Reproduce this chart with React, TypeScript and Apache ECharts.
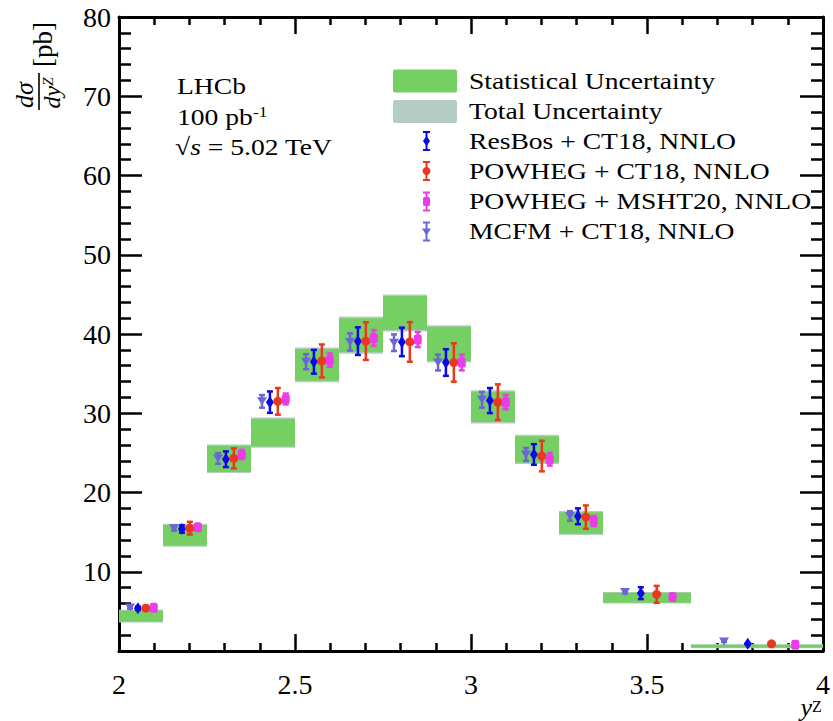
import React, { useEffect, useRef } from 'react';
import * as echarts from 'echarts';

// ---------------- data ----------------
const binEdges = [2.0, 2.125, 2.25, 2.375, 2.5, 2.625, 2.75, 2.875, 3.0, 3.125, 3.25, 3.375, 3.625, 4.0];
const statLow = [3.7, 13.3, 22.6, 25.8, 34.1, 37.7, 40.5, 36.6, 28.9, 23.8, 14.8, 6.1, 0.4];
const statHigh = [5.1, 15.9, 25.9, 29.3, 38.1, 42.0, 44.8, 40.9, 32.7, 27.1, 17.5, 7.35, 0.8];
const totalLow = [3.6, 13.15, 22.45, 25.65, 33.9, 37.5, 40.3, 36.4, 28.7, 23.6, 14.65, 6.0, 0.35];
const totalHigh = [5.2, 16.05, 26.05, 29.45, 38.3, 42.2, 45.0, 41.1, 32.9, 27.3, 17.65, 7.45, 0.85];

const mcfmVal = [5.5, 15.5, 24.3, 31.5, 36.5, 39.0, 38.9, 36.4, 31.7, 24.8, 17.05, 7.45, 1.2];
const mcfmErr = [0.15, 0.3, 0.67, 0.8, 0.95, 1.09, 1.05, 1.0, 0.99, 0.82, 0.6, 0.2, 0.05];
const resbosVal = [5.4, 15.4, 24.2, 31.4, 36.5, 39.1, 39.0, 36.4, 31.6, 24.8, 17.0, 7.3, 0.9];
const resbosErr = [0.2, 0.46, 0.99, 1.35, 1.5, 1.74, 1.8, 1.68, 1.58, 1.3, 1.0, 0.75, 0.05];
const powhegCT18Val = [5.4, 15.5, 24.3, 31.5, 36.6, 39.1, 39.0, 36.4, 31.4, 24.6, 16.9, 7.15, 0.9];
const powhegCT18Err = [0.3, 0.8, 1.26, 1.68, 2.08, 2.37, 2.5, 2.42, 2.25, 1.93, 1.47, 1.07, 0.05];
const powhegMSHTVal = [5.45, 15.6, 24.8, 31.8, 36.7, 39.5, 39.3, 36.4, 31.4, 24.2, 16.4, 6.8, 0.8];
const powhegMSHTErr = [0.15, 0.3, 0.59, 0.69, 0.84, 0.99, 0.95, 0.99, 0.9, 0.8, 0.63, 0.2, 0.05];

// position of each prediction inside its bin (fraction of bin width)
const pointFrac = [0.25, 0.43, 0.61, 0.79];

const xTickLabels = ['2', '2.5', '3', '3.5', '4'];
const yTickLabels = ['', '10', '20', '30', '40', '50', '60', '70', '80'];

const legendLabels = [
  'Statistical Uncertainty',
  'Total Uncertainty',
  'ResBos + CT18, NNLO',
  'POWHEG + CT18, NNLO',
  'POWHEG + MSHT20, NNLO',
  'MCFM + CT18, NNLO',
];

// ---------------- styles ----------------
const FONT = "'Liberation Serif', 'Times New Roman', Times, serif";
const SX = 1.15;
const STAT_COLOR = '#76cf63';
const TOTAL_COLOR = '#b6cdc3';
const C_RESBOS = '#0a0ae6';
const C_POWHEG = '#e8391e';
const C_MSHT = '#ea3ce8';
const C_MCFM = '#6a66d6';

const models = [
  { name: 'MCFM + CT18, NNLO', vals: mcfmVal, errs: mcfmErr, color: C_MCFM, symbol: 'triangle', size: [10, 8], rotate: 180, frac: pointFrac[0] },
  { name: 'ResBos + CT18, NNLO', vals: resbosVal, errs: resbosErr, color: C_RESBOS, symbol: 'diamond', size: [8, 12], rotate: 0, frac: pointFrac[1] },
  { name: 'POWHEG + CT18, NNLO', vals: powhegCT18Val, errs: powhegCT18Err, color: C_POWHEG, symbol: 'circle', size: 9, rotate: 0, frac: pointFrac[2] },
  { name: 'POWHEG + MSHT20, NNLO', vals: powhegMSHTVal, errs: powhegMSHTErr, color: C_MSHT, symbol: 'roundRect', size: [8, 10], rotate: 0, frac: pointFrac[3] },
];

function pointsFor(m: any) {
  return m.vals.map((v: number, i: number) => {
    const lo = binEdges[i];
    const hi = binEdges[i + 1];
    return [lo + (hi - lo) * m.frac, v, m.errs[i]];
  });
}

function boxData(low: number[], high: number[]) {
  return low.map((l, i) => [binEdges[i], binEdges[i + 1], l, high[i]]);
}

function boxSeries(name: string, data: any[], color: string, z: number) {
  return {
    type: 'custom',
    name,
    z,
    data,
    encode: { x: [0, 1], y: [2, 3] },
    renderItem: (params: any, api: any) => {
      const p0 = api.coord([api.value(0), api.value(3)]);
      const p1 = api.coord([api.value(1), api.value(2)]);
      return {
        type: 'rect',
        shape: { x: p0[0], y: p0[1], width: p1[0] - p0[0], height: p1[1] - p0[1] },
        style: { fill: color },
      };
    },
  };
}

function errSeries(m: any) {
  return {
    type: 'custom',
    name: m.name + ' err',
    z: 5,
    data: pointsFor(m),
    encode: { x: 0, y: 1 },
    renderItem: (params: any, api: any) => {
      const x = api.value(0);
      const v = api.value(1);
      const e = api.value(2);
      const top = api.coord([x, v + e]);
      const bot = api.coord([x, v - e]);
      const hw = 3;
      const st = { stroke: m.color, lineWidth: 2.5 };
      return {
        type: 'group',
        children: [
          { type: 'line', shape: { x1: top[0], y1: top[1], x2: bot[0], y2: bot[1] }, style: st },
          { type: 'line', shape: { x1: top[0] - hw, y1: top[1], x2: top[0] + hw, y2: top[1] }, style: st },
          { type: 'line', shape: { x1: bot[0] - hw, y1: bot[1], x2: bot[0] + hw, y2: bot[1] }, style: st },
        ],
      };
    },
  };
}

function scatterSeries(m: any) {
  return {
    type: 'scatter',
    name: m.name,
    z: 6,
    symbol: m.symbol,
    symbolSize: m.size,
    symbolRotate: m.rotate,
    itemStyle: { color: m.color, opacity: 1 },
    data: pointsFor(m).map((p: number[]) => [p[0], p[1]]),
  };
}

function legendIcon(cx: number, cy: number, m: any) {
  const st = { stroke: m.color, lineWidth: 2 };
  const h = 9;
  const children: any[] = [
    { type: 'line', shape: { x1: cx, y1: cy - h, x2: cx, y2: cy + h }, style: st },
    { type: 'line', shape: { x1: cx - 3.5, y1: cy - h, x2: cx + 3.5, y2: cy - h }, style: st },
    { type: 'line', shape: { x1: cx - 3.5, y1: cy + h, x2: cx + 3.5, y2: cy + h }, style: st },
  ];
  const f = { fill: m.color };
  if (m.symbol === 'diamond') {
    children.push({ type: 'polygon', shape: { points: [[cx, cy - 5], [cx + 3.5, cy], [cx, cy + 5], [cx - 3.5, cy]] }, style: f });
  } else if (m.symbol === 'circle') {
    children.push({ type: 'circle', shape: { cx, cy, r: 4 }, style: f });
  } else if (m.symbol === 'roundRect') {
    children.push({ type: 'rect', shape: { x: cx - 3.5, y: cy - 4.5, width: 7, height: 9, r: 1.5 }, style: f });
  } else {
    children.push({ type: 'polygon', shape: { points: [[cx - 4.5, cy - 3], [cx + 4.5, cy - 3], [cx, cy + 4]] }, style: f });
  }
  return { type: 'group', children };
}

function label(x: number, y: number, text: string, rich?: any) {
  return {
    type: 'text',
    x,
    y,
    scaleX: SX,
    z: 20,
    style: {
      text,
      rich,
      fill: '#000',
      fontFamily: FONT,
      fontSize: 24,
      align: 'left',
      verticalAlign: 'middle',
    },
  };
}

export default function App() {
  const ref = useRef<HTMLDivElement>(null);

  useEffect(() => {
    if (!ref.current) return;
    const chart = echarts.init(ref.current, undefined, { renderer: 'svg' });

    const axisCommon = {
      type: 'value',
      splitLine: { show: false },
      axisLine: { show: true, onZero: false, lineStyle: { color: '#000', width: 3 } },
    };

    const legendRowsY = [81, 111, 141, 171, 201.5, 231.5];
    const legendTextX = 469;
    const legendModels = [models[1], models[2], models[3], models[0]];

    const graphic: any[] = [
      // annotation
      label(177, 86, 'LHCb'),
      label(177, 117, '{n|100 pb}{s|-1}', {
        n: { fontFamily: FONT, fontSize: 24, fill: '#000' },
        s: { fontFamily: FONT, fontSize: 15, fill: '#000', verticalAlign: 'top', padding: [0, 0, 10, 0] },
      }),
      label(175, 147, '{n|√}{i|s}{n| = 5.02 TeV}', {
        n: { fontFamily: FONT, fontSize: 24, fill: '#000' },
        i: { fontFamily: FONT, fontSize: 24, fontStyle: 'italic', fill: '#000' },
      }),
      // legend boxes
      { type: 'rect', shape: { x: 393, y: 69.5, width: 64, height: 23, r: 2 }, style: { fill: STAT_COLOR }, z: 20 },
      { type: 'rect', shape: { x: 393, y: 100, width: 64, height: 23, r: 2 }, style: { fill: TOTAL_COLOR }, z: 20 },
      ...legendLabels.map((t, i) => label(legendTextX, legendRowsY[i], t)),
      ...legendModels.map((m, i) => ({ ...legendIcon(426.5, legendRowsY[i + 2], m), z: 20 })),
      // y axis title (rotated)
      {
        type: 'group',
        x: 39,
        y: 110,
        rotation: Math.PI / 2,
        z: 20,
        children: [
          {
            type: 'text', x: 15, y: -2,
            style: { text: 'dσ', fontFamily: FONT, fontSize: 26, fontStyle: 'italic', fill: '#000', align: 'center', verticalAlign: 'bottom' },
          },
          { type: 'line', shape: { x1: 0, y1: 0, x2: 37, y2: 0 }, style: { stroke: '#000', lineWidth: 1.6 } },
          {
            type: 'text', x: 17, y: 1,
            style: {
              text: '{i|dy}{s|Z}',
              rich: {
                i: { fontFamily: FONT, fontSize: 24, fontStyle: 'italic', fill: '#000' },
                s: { fontFamily: FONT, fontSize: 15, fontStyle: 'italic', fill: '#000', verticalAlign: 'top', padding: [0, 0, 8, 0] },
              },
              align: 'center', verticalAlign: 'top',
            },
          },
          {
            type: 'text', x: 43, y: 4,
            style: { text: '[pb]', fontFamily: FONT, fontSize: 27, fill: '#000', align: 'left', verticalAlign: 'middle' },
          },
        ],
      },
      // x axis title: italic y with superscript Z
      {
        type: 'text', x: 812, y: 707, z: 20,
        style: {
          text: 'y', fontFamily: FONT, fontSize: 26, fontStyle: 'italic', fill: '#000',
          align: 'right', verticalAlign: 'middle', lineHeight: 22,
        },
      },
      {
        type: 'text', x: 812, y: 706, z: 20,
        style: {
          text: 'Z', fontFamily: FONT, fontSize: 16, fill: '#000',
          align: 'left', verticalAlign: 'middle', lineHeight: 11,
        },
      },
    ];

    const option: any = {
      animation: false,
      backgroundColor: '#fff',
      grid: { left: 119, right: 8, top: 17, bottom: 70, containLabel: false },
      xAxis: [
        {
          ...axisCommon,
          position: 'bottom',
          min: 2,
          max: 4,
          interval: 0.5,
          axisTick: { show: true, inside: true, length: 17, lineStyle: { color: '#000', width: 2.5 } },
          minorTick: { show: true, splitNumber: 5, length: 8, lineStyle: { color: '#000', width: 2.5 } },
          axisLabel: {
            show: true,
            margin: 22,
            color: '#000',
            fontFamily: FONT,
            fontSize: 28,
            lineHeight: 22,
            formatter: (v: number) => xTickLabels[Math.round((v - 2) / 0.5)] ?? '',
          },
        },
        {
          ...axisCommon,
          position: 'top',
          min: 2,
          max: 4,
          interval: 0.5,
          axisTick: { show: true, inside: true, length: 17, lineStyle: { color: '#000', width: 2.5 } },
          minorTick: { show: true, splitNumber: 5, length: 8, lineStyle: { color: '#000', width: 2.5 } },
          axisLabel: { show: false },
        },
      ],
      yAxis: [
        {
          ...axisCommon,
          position: 'left',
          min: 0,
          max: 80,
          interval: 10,
          axisTick: { show: true, inside: true, length: 23, lineStyle: { color: '#000', width: 2.5 } },
          minorTick: { show: true, splitNumber: 5, length: 12, lineStyle: { color: '#000', width: 2.5 } },
          axisLabel: {
            show: true,
            margin: 8,
            color: '#000',
            fontFamily: FONT,
            fontSize: 28,
            formatter: (v: number) => yTickLabels[Math.round(v / 10)] ?? '',
          },
        },
        {
          ...axisCommon,
          position: 'right',
          min: 0,
          max: 80,
          interval: 10,
          axisTick: { show: true, inside: true, length: 23, lineStyle: { color: '#000', width: 2.5 } },
          minorTick: { show: true, splitNumber: 5, length: 12, lineStyle: { color: '#000', width: 2.5 } },
          axisLabel: { show: false },
        },
      ],
      series: [
        boxSeries('Total Uncertainty', boxData(totalLow, totalHigh), TOTAL_COLOR, 2),
        boxSeries('Statistical Uncertainty', boxData(statLow, statHigh), STAT_COLOR, 3),
        ...models.map(errSeries),
        ...models.map(scatterSeries),
      ],
      graphic,
    };

    chart.setOption(option);
    return () => chart.dispose();
  }, []);

  return (
    <div
      ref={ref}
      style={{ position: 'fixed', left: 0, top: 0, width: 833, height: 721, background: '#fff' }}
    />
  );
}
